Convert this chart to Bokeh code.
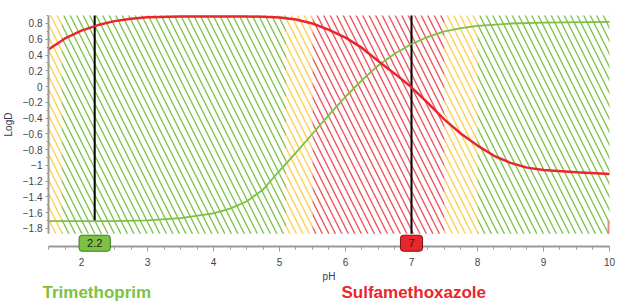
from bokeh.plotting import figure
from bokeh.models import Range1d, Label, SingleIntervalTicker, ColumnDataSource
from bokeh.core.properties import value
from bokeh.embed import file_html
from bokeh.resources import INLINE

# ---- data ----
ph_tmp = [1.5, 2.0, 2.5, 3.0, 3.5, 4.0, 4.25, 4.5, 4.75, 5.0, 5.25, 5.5, 5.75, 6.0, 6.25, 6.5, 6.75, 7.0, 7.25, 7.5, 7.75, 8.0, 8.5, 9.0, 10.0]
logd_tmp = [-1.71, -1.71, -1.71, -1.70, -1.67, -1.61, -1.55, -1.46, -1.31, -1.07, -0.84, -0.60, -0.36, -0.13, 0.08, 0.27, 0.42, 0.54, 0.63, 0.70, 0.74, 0.77, 0.80, 0.81, 0.82]

ph_smx = [1.5, 1.75, 2.0, 2.25, 2.5, 2.75, 3.0, 3.5, 4.0, 4.5, 4.75, 5.0, 5.25, 5.5, 5.75, 6.0, 6.25, 6.5, 6.75, 7.0, 7.25, 7.5, 7.75, 8.0, 8.25, 8.5, 8.75, 9.0, 9.5, 10.0]
logd_smx = [0.47, 0.61, 0.71, 0.78, 0.83, 0.86, 0.88, 0.89, 0.89, 0.89, 0.885, 0.875, 0.85, 0.80, 0.72, 0.62, 0.49, 0.32, 0.16, -0.01, -0.21, -0.42, -0.60, -0.75, -0.88, -0.97, -1.03, -1.06, -1.09, -1.11]

zone_start = [1.5, 1.7, 5.1, 5.5, 7.5, 8.0]
zone_end = [1.7, 5.1, 5.5, 7.5, 8.0, 10.0]
zone_kind = ["caution", "good", "caution", "poor", "caution", "good"]
logd_top = 0.9
logd_bottom = -1.87

marker_ph = [2.2, 7.0]
marker_text = ["2.2", "7"]
marker_end = [-1.71, -1.87]

flag_ph = [9.97, 10.0]
flag_logd = [-1.87, -1.70]

compound_names = ["Trimethoprim", "Sulfamethoxazole"]

# ---- styles / layout ----
GREEN = "#7cc142"
RED = "#e8262b"
kind_color = {"good": "#80c450", "caution": "#fdd050", "poor": "#ee5560"}
FONT = "Liberation Sans"
X_AXIS_AT = -2.033
MARK_Y = -1.99
NAME_Y = -2.616
NAME_X = [1.409, 5.939]

p = figure(width=620, height=307, output_backend="svg", toolbar_location=None,
           x_range=Range1d(0.7727, 10.1667), y_range=Range1d(-2.806, 1.092),
           min_border_left=0, min_border_right=0, min_border_top=0, min_border_bottom=0)
p.outline_line_color = None
p.grid.visible = False
p.background_fill_color = "white"

zsrc = ColumnDataSource(dict(left=zone_start, right=zone_end,
                             top=[logd_top] * len(zone_start), bottom=[logd_bottom] * len(zone_start),
                             color=[kind_color[k] for k in zone_kind]))
p.quad(left="left", right="right", top="top", bottom="bottom", source=zsrc,
       fill_color=None, line_color=None, hatch_pattern="left_diagonal_line",
       hatch_color="color", hatch_scale=13, hatch_weight=1.4)

p.quad(left=[flag_ph[0]], right=[flag_ph[1]], bottom=[flag_logd[0]], top=[flag_logd[1]],
       fill_color="#f08585", line_color=None)

p.segment(x0=marker_ph, x1=marker_ph, y0=[logd_top] * 2, y1=marker_end, line_color="black", line_width=2)

p.line(ph_tmp, logd_tmp, line_color=GREEN, line_width=1.8)
p.line(ph_smx, logd_smx, line_color=RED, line_width=2.5)

# axes (fixed inside the frame)
p.xaxis.fixed_location = X_AXIS_AT
p.yaxis.fixed_location = zone_start[0]
p.xaxis.ticker = SingleIntervalTicker(interval=1, num_minor_ticks=4)
p.yaxis.ticker = SingleIntervalTicker(interval=0.2, num_minor_ticks=2)
p.xaxis.bounds = (zone_start[0], zone_end[-1])
p.yaxis.bounds = (logd_bottom, logd_top)
for ax in (p.xaxis[0], p.yaxis[0]):
    ax.axis_line_color = "#9a9a9a"
    ax.axis_line_width = 2
    ax.major_tick_line_color = "#9a9a9a"
    ax.minor_tick_line_color = "#9a9a9a"
    ax.major_label_text_font = FONT
    ax.major_label_text_font_size = "10px"
    ax.major_label_text_color = "#3a4454"
    ax.axis_label_text_font = FONT
    ax.axis_label_text_font_size = "10px"
    ax.axis_label_text_font_style = "normal"
    ax.axis_label_text_color = "#3a3a4a"
p.xaxis.axis_label = "pH"
p.xaxis.major_tick_out = 5
p.xaxis.major_tick_in = 0
p.xaxis.minor_tick_out = 3
p.xaxis.minor_tick_in = 0
p.xaxis.major_label_standoff = 6
p.xaxis.axis_label_standoff = 2
p.yaxis.axis_label = "LogD"
p.yaxis.major_tick_out = 3
p.yaxis.major_tick_in = 0
p.yaxis.minor_tick_out = 2
p.yaxis.minor_tick_in = 0
p.yaxis.major_label_standoff = 3
p.yaxis.axis_label_standoff = 6

# marker labels on axis
for xv, txt, col in zip(marker_ph, marker_text, [GREEN, RED]):
    p.add_layout(Label(x=xv, y=MARK_Y, text=txt, text_align="center", text_baseline="middle",
                       text_font=FONT, text_font_size="11px", text_color="#222222",
                       background_fill_color=col, border_line_color="#3a7a22" if col == GREEN else "#7a1010",
                       border_line_width=1, padding=(8, 4), border_radius=3))

# compound names
p.text(x=NAME_X[:1], y=[NAME_Y], text=compound_names[:1], text_align="left", text_baseline="middle",
       text_font=value(FONT), text_font_size="17px", text_font_style="bold", text_color=GREEN)
p.text(x=NAME_X[1:], y=[NAME_Y], text=compound_names[1:], text_align="left", text_baseline="middle",
       text_font=value(FONT), text_font_size="17px", text_font_style="bold", text_color=RED)

open("out.html", "w").write(file_html(p, INLINE))
